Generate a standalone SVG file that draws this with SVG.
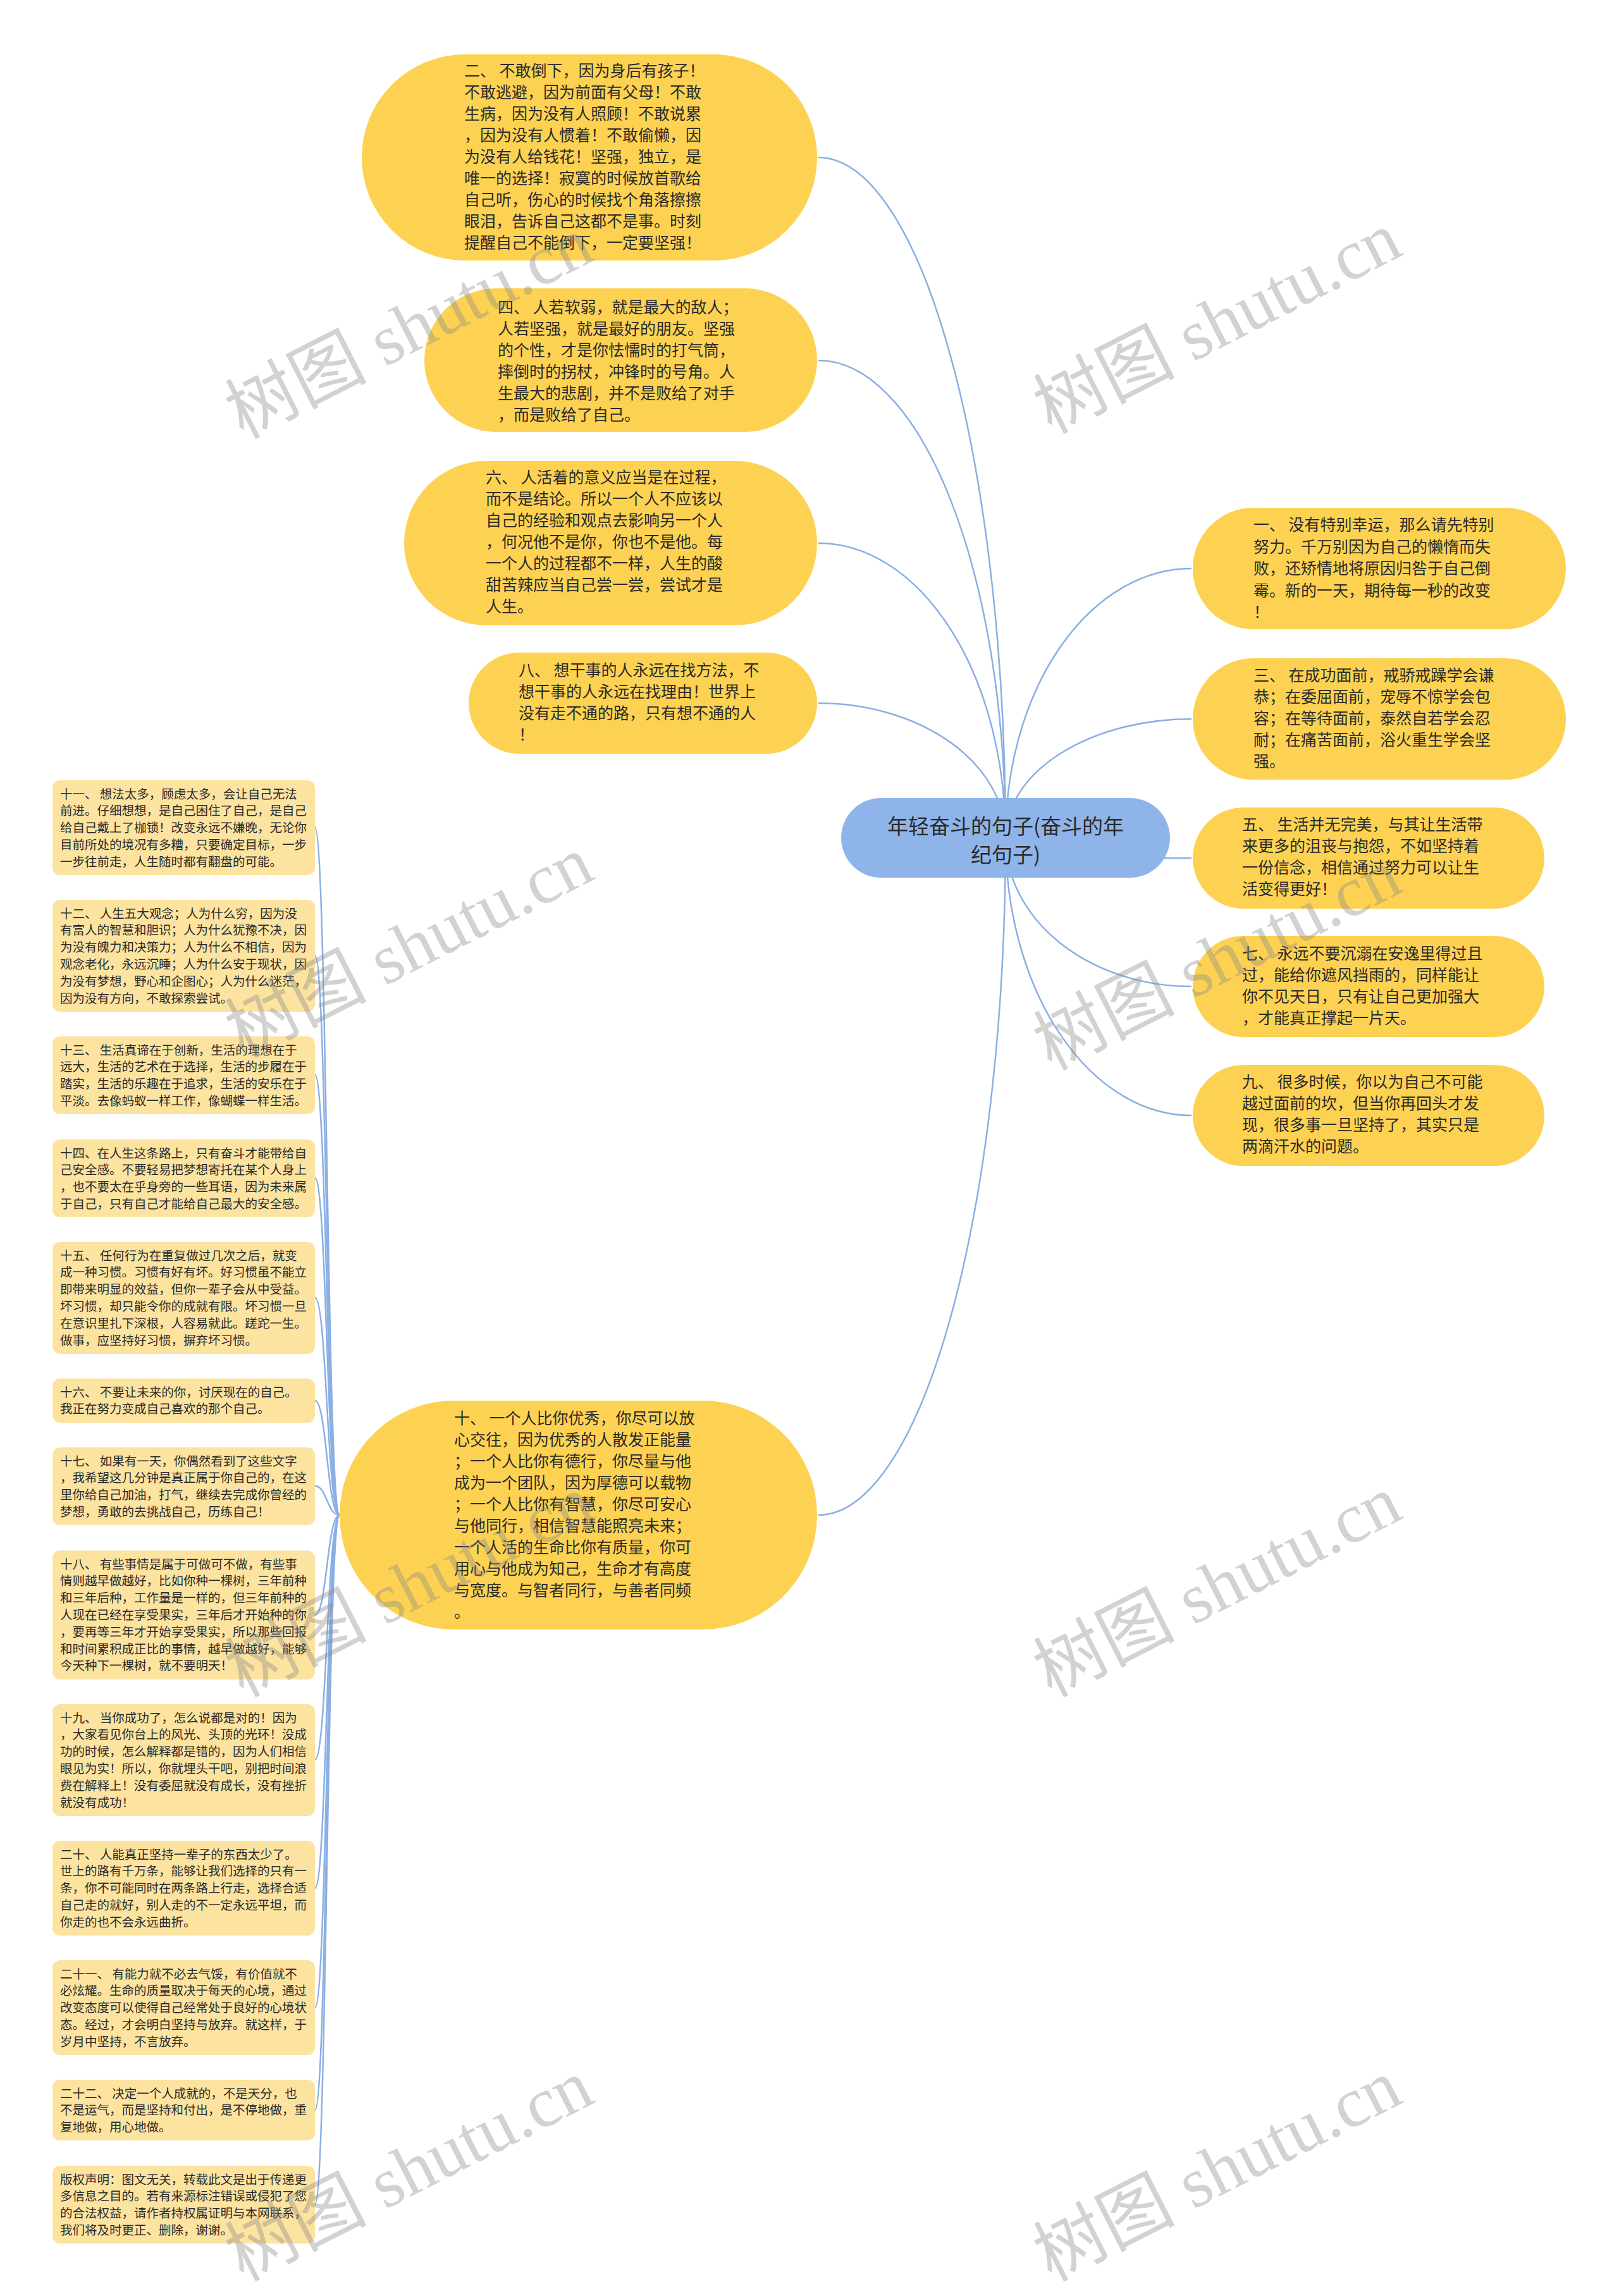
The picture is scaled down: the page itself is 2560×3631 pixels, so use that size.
<svg xmlns="http://www.w3.org/2000/svg" width="2560" height="3631" viewBox="0 0 2560 3631">
<style>
.bg{fill:#ffffff}
.big{fill:#FDD252}
.small{fill:#FCE3A0}
.root{fill:#8FB4E9}
.t{font-family:"Noto Sans CJK SC","Noto Sans",sans-serif;fill:#2a2a2a}
.t25{font-size:25px}
.t19{font-size:19.5px}
.t33{font-size:33px}
.conn{fill:none;stroke:#8AAFE3;stroke-width:2.5}
.wm{font-family:"Liberation Serif","Noto Sans CJK SC",serif;font-size:112px;fill:#8a8a8a;opacity:0.38}
</style>
<rect class="bg" x="0" y="0" width="2560" height="3631"/>
<g id="connectors">
<path class="conn" d="M1590 1325 A296 1076 0 0 0 1294 249"/>
<path class="conn" d="M1590 1325 A296 755 0 0 0 1294 570"/>
<path class="conn" d="M1590 1325 A296 466 0 0 0 1294 859"/>
<path class="conn" d="M1590 1325 A296 213 0 0 0 1294 1112"/>
<path class="conn" d="M1590 1325 A296 1071 0 0 1 1294 2396"/>
<path class="conn" d="M1590 1325 A294 426 0 0 1 1884 899"/>
<path class="conn" d="M1590 1325 A294 188 0 0 1 1884 1137"/>
<path class="conn" d="M1590 1325 A294 32 0 0 0 1884 1357"/>
<path class="conn" d="M1590 1325 A294 235 0 0 0 1884 1560"/>
<path class="conn" d="M1590 1325 A294 439 0 0 0 1884 1764"/>
<path class="conn" d="M537 2396 C517 2396 517 1309 498 1309"/>
<path class="conn" d="M537 2396 C517 2396 517 1511 498 1511"/>
<path class="conn" d="M537 2396 C517 2396 517 1700 498 1700"/>
<path class="conn" d="M537 2396 C517 2396 517 1863 498 1863"/>
<path class="conn" d="M537 2396 C517 2396 517 2052 498 2052"/>
<path class="conn" d="M537 2396 C517 2396 517 2215 498 2215"/>
<path class="conn" d="M537 2396 C517 2396 517 2350 498 2350"/>
<path class="conn" d="M537 2396 C517 2396 517 2554 498 2554"/>
<path class="conn" d="M537 2396 C517 2396 517 2783 498 2783"/>
<path class="conn" d="M537 2396 C517 2396 517 2986 498 2986"/>
<path class="conn" d="M537 2396 C517 2396 517 3175 498 3175"/>
<path class="conn" d="M537 2396 C517 2396 517 3337 498 3337"/>
<path class="conn" d="M537 2396 C517 2396 517 3486 498 3486"/>
</g>
<g id="root">
<rect class="root" x="1330" y="1262" width="520" height="126" rx="63"/>
<text class="t t33" text-anchor="middle"><tspan x="1590" y="1319">年轻奋斗的句子(奋斗的年</tspan><tspan x="1590" y="1364">纪句子)</tspan></text>
</g>
<g id="n2">
<rect class="big" x="572" y="86" width="720" height="326" rx="163"/>
<text class="t t25"><tspan x="734" y="121">二、 不敢倒下，因为身后有孩子！</tspan><tspan x="734" dy="34">不敢逃避，因为前面有父母！不敢</tspan><tspan x="734" dy="34">生病，因为没有人照顾！不敢说累</tspan><tspan x="734" dy="34">，因为没有人惯着！不敢偷懒，因</tspan><tspan x="734" dy="34">为没有人给钱花！坚强，独立，是</tspan><tspan x="734" dy="34">唯一的选择！寂寞的时候放首歌给</tspan><tspan x="734" dy="34">自己听，伤心的时候找个角落擦擦</tspan><tspan x="734" dy="34">眼泪，告诉自己这都不是事。时刻</tspan><tspan x="734" dy="34">提醒自己不能倒下，一定要坚强！</tspan></text>
</g>
<g id="n4">
<rect class="big" x="671" y="456" width="621" height="227" rx="113.5"/>
<text class="t t25"><tspan x="787" y="495">四、 人若软弱，就是最大的敌人；</tspan><tspan x="787" dy="34">人若坚强，就是最好的朋友。坚强</tspan><tspan x="787" dy="34">的个性，才是你怯懦时的打气筒，</tspan><tspan x="787" dy="34">摔倒时的拐杖，冲锋时的号角。人</tspan><tspan x="787" dy="34">生最大的悲剧，并不是败给了对手</tspan><tspan x="787" dy="34">，而是败给了自己。</tspan></text>
</g>
<g id="n6">
<rect class="big" x="639" y="729" width="653" height="260" rx="130"/>
<text class="t t25"><tspan x="768" y="764">六、 人活着的意义应当是在过程，</tspan><tspan x="768" dy="34">而不是结论。所以一个人不应该以</tspan><tspan x="768" dy="34">自己的经验和观点去影响另一个人</tspan><tspan x="768" dy="34">，何况他不是你，你也不是他。每</tspan><tspan x="768" dy="34">一个人的过程都不一样，人生的酸</tspan><tspan x="768" dy="34">甜苦辣应当自己尝一尝，尝试才是</tspan><tspan x="768" dy="34">人生。</tspan></text>
</g>
<g id="n8">
<rect class="big" x="741" y="1032" width="551" height="160" rx="80"/>
<text class="t t25"><tspan x="820" y="1069">八、 想干事的人永远在找方法，不</tspan><tspan x="820" dy="34">想干事的人永远在找理由！世界上</tspan><tspan x="820" dy="34">没有走不通的路，只有想不通的人</tspan><tspan x="820" dy="34">！</tspan></text>
</g>
<g id="n10">
<rect class="big" x="537" y="2215" width="755" height="362" rx="181"/>
<text class="t t25"><tspan x="718" y="2252">十、 一个人比你优秀，你尽可以放</tspan><tspan x="718" dy="34">心交往，因为优秀的人散发正能量</tspan><tspan x="718" dy="34">；一个人比你有德行，你尽量与他</tspan><tspan x="718" dy="34">成为一个团队，因为厚德可以载物</tspan><tspan x="718" dy="34">；一个人比你有智慧，你尽可安心</tspan><tspan x="718" dy="34">与他同行，相信智慧能照亮未来；</tspan><tspan x="718" dy="34">一个人活的生命比你有质量，你可</tspan><tspan x="718" dy="34">用心与他成为知己，生命才有高度</tspan><tspan x="718" dy="34">与宽度。与智者同行，与善者同频</tspan><tspan x="718" dy="34">。</tspan></text>
</g>
<g id="n1">
<rect class="big" x="1886" y="803" width="590" height="192" rx="96"/>
<text class="t t25"><tspan x="1982" y="839">一、 没有特别幸运，那么请先特别</tspan><tspan x="1982" dy="34.5">努力。千万别因为自己的懒惰而失</tspan><tspan x="1982" dy="34.5">败，还矫情地将原因归咎于自己倒</tspan><tspan x="1982" dy="34.5">霉。新的一天，期待每一秒的改变</tspan><tspan x="1982" dy="34.5">！</tspan></text>
</g>
<g id="n3">
<rect class="big" x="1886" y="1041" width="590" height="192" rx="96"/>
<text class="t t25"><tspan x="1982" y="1077">三、 在成功面前，戒骄戒躁学会谦</tspan><tspan x="1982" dy="34">恭；在委屈面前，宠辱不惊学会包</tspan><tspan x="1982" dy="34">容；在等待面前，泰然自若学会忍</tspan><tspan x="1982" dy="34">耐；在痛苦面前，浴火重生学会坚</tspan><tspan x="1982" dy="34">强。</tspan></text>
</g>
<g id="n5">
<rect class="big" x="1886" y="1277" width="556" height="160" rx="80"/>
<text class="t t25"><tspan x="1964" y="1313">五、 生活并无完美，与其让生活带</tspan><tspan x="1964" dy="34">来更多的沮丧与抱怨，不如坚持着</tspan><tspan x="1964" dy="34">一份信念，相信通过努力可以让生</tspan><tspan x="1964" dy="34">活变得更好！</tspan></text>
</g>
<g id="n7">
<rect class="big" x="1886" y="1480" width="556" height="160" rx="80"/>
<text class="t t25"><tspan x="1964" y="1517">七、 永远不要沉溺在安逸里得过且</tspan><tspan x="1964" dy="34">过，能给你遮风挡雨的，同样能让</tspan><tspan x="1964" dy="34">你不见天日，只有让自己更加强大</tspan><tspan x="1964" dy="34">，才能真正撑起一片天。</tspan></text>
</g>
<g id="n9">
<rect class="big" x="1886" y="1684" width="556" height="160" rx="80"/>
<text class="t t25"><tspan x="1964" y="1720">九、 很多时候，你以为自己不可能</tspan><tspan x="1964" dy="34">越过面前的坎，但当你再回头才发</tspan><tspan x="1964" dy="34">现，很多事一旦坚持了，其实只是</tspan><tspan x="1964" dy="34">两滴汗水的问题。</tspan></text>
</g>
<g id="n11">
<rect class="small" x="83" y="1234" width="415" height="150" rx="12"/>
<text class="t t19"><tspan x="95" y="1262.6">十一、 想法太多，顾虑太多，会让自己无法</tspan><tspan x="95" dy="26.8">前进。仔细想想，是自己困住了自己，是自己</tspan><tspan x="95" dy="26.8">给自己戴上了枷锁！改变永远不嫌晚，无论你</tspan><tspan x="95" dy="26.8">目前所处的境况有多糟，只要确定目标，一步</tspan><tspan x="95" dy="26.8">一步往前走，人生随时都有翻盘的可能。</tspan></text>
</g>
<g id="n12">
<rect class="small" x="83" y="1423" width="415" height="177" rx="12"/>
<text class="t t19"><tspan x="95" y="1451.6">十二、 人生五大观念；人为什么穷，因为没</tspan><tspan x="95" dy="26.8">有富人的智慧和胆识；人为什么犹豫不决，因</tspan><tspan x="95" dy="26.8">为没有魄力和决策力；人为什么不相信，因为</tspan><tspan x="95" dy="26.8">观念老化，永远沉睡；人为什么安于现状，因</tspan><tspan x="95" dy="26.8">为没有梦想，野心和企图心；人为什么迷茫，</tspan><tspan x="95" dy="26.8">因为没有方向，不敢探索尝试。</tspan></text>
</g>
<g id="n13">
<rect class="small" x="83" y="1639" width="415" height="123" rx="12"/>
<text class="t t19"><tspan x="95" y="1667.6">十三、 生活真谛在于创新，生活的理想在于</tspan><tspan x="95" dy="26.8">远大，生活的艺术在于选择，生活的步履在于</tspan><tspan x="95" dy="26.8">踏实，生活的乐趣在于追求，生活的安乐在于</tspan><tspan x="95" dy="26.8">平淡。去像蚂蚁一样工作，像蝴蝶一样生活。</tspan></text>
</g>
<g id="n14">
<rect class="small" x="83" y="1802" width="415" height="123" rx="12"/>
<text class="t t19"><tspan x="95" y="1830.6">十四、在人生这条路上，只有奋斗才能带给自</tspan><tspan x="95" dy="26.8">己安全感。不要轻易把梦想寄托在某个人身上</tspan><tspan x="95" dy="26.8">，也不要太在乎身旁的一些耳语，因为未来属</tspan><tspan x="95" dy="26.8">于自己，只有自己才能给自己最大的安全感。</tspan></text>
</g>
<g id="n15">
<rect class="small" x="83" y="1964" width="415" height="177" rx="12"/>
<text class="t t19"><tspan x="95" y="1992.6">十五、 任何行为在重复做过几次之后，就变</tspan><tspan x="95" dy="26.8">成一种习惯。习惯有好有坏。好习惯虽不能立</tspan><tspan x="95" dy="26.8">即带来明显的效益，但你一辈子会从中受益。</tspan><tspan x="95" dy="26.8">坏习惯，却只能令你的成就有限。坏习惯一旦</tspan><tspan x="95" dy="26.8">在意识里扎下深根，人容易就此。蹉跎一生。</tspan><tspan x="95" dy="26.8">做事，应坚持好习惯，摒弃坏习惯。</tspan></text>
</g>
<g id="n16">
<rect class="small" x="83" y="2180" width="415" height="70" rx="12"/>
<text class="t t19"><tspan x="95" y="2208.6">十六、 不要让未来的你，讨厌现在的自己。</tspan><tspan x="95" dy="26.8">我正在努力变成自己喜欢的那个自己。</tspan></text>
</g>
<g id="n17">
<rect class="small" x="83" y="2289" width="415" height="123" rx="12"/>
<text class="t t19"><tspan x="95" y="2317.6">十七、 如果有一天，你偶然看到了这些文字</tspan><tspan x="95" dy="26.8">，我希望这几分钟是真正属于你自己的，在这</tspan><tspan x="95" dy="26.8">里你给自己加油，打气，继续去完成你曾经的</tspan><tspan x="95" dy="26.8">梦想，勇敢的去挑战自己，历练自己！</tspan></text>
</g>
<g id="n18">
<rect class="small" x="83" y="2452" width="415" height="204" rx="12"/>
<text class="t t19"><tspan x="95" y="2480.6">十八、 有些事情是属于可做可不做，有些事</tspan><tspan x="95" dy="26.8">情则越早做越好，比如你种一棵树，三年前种</tspan><tspan x="95" dy="26.8">和三年后种，工作量是一样的，但三年前种的</tspan><tspan x="95" dy="26.8">人现在已经在享受果实，三年后才开始种的你</tspan><tspan x="95" dy="26.8">，要再等三年才开始享受果实，所以那些回报</tspan><tspan x="95" dy="26.8">和时间累积成正比的事情，越早做越好，能够</tspan><tspan x="95" dy="26.8">今天种下一棵树，就不要明天！</tspan></text>
</g>
<g id="n19">
<rect class="small" x="83" y="2695" width="415" height="177" rx="12"/>
<text class="t t19"><tspan x="95" y="2723.6">十九、 当你成功了，怎么说都是对的！因为</tspan><tspan x="95" dy="26.8">，大家看见你台上的风光、头顶的光环！没成</tspan><tspan x="95" dy="26.8">功的时候，怎么解释都是错的，因为人们相信</tspan><tspan x="95" dy="26.8">眼见为实！所以，你就埋头干吧，别把时间浪</tspan><tspan x="95" dy="26.8">费在解释上！没有委屈就没有成长，没有挫折</tspan><tspan x="95" dy="26.8">就没有成功！</tspan></text>
</g>
<g id="n20">
<rect class="small" x="83" y="2911" width="415" height="150" rx="12"/>
<text class="t t19"><tspan x="95" y="2939.6">二十、 人能真正坚持一辈子的东西太少了。</tspan><tspan x="95" dy="26.8">世上的路有千万条，能够让我们选择的只有一</tspan><tspan x="95" dy="26.8">条，你不可能同时在两条路上行走，选择合适</tspan><tspan x="95" dy="26.8">自己走的就好，别人走的不一定永远平坦，而</tspan><tspan x="95" dy="26.8">你走的也不会永远曲折。</tspan></text>
</g>
<g id="n21">
<rect class="small" x="83" y="3100" width="415" height="150" rx="12"/>
<text class="t t19"><tspan x="95" y="3128.6">二十一、 有能力就不必去气馁，有价值就不</tspan><tspan x="95" dy="26.8">必炫耀。生命的质量取决于每天的心境，通过</tspan><tspan x="95" dy="26.8">改变态度可以使得自己经常处于良好的心境状</tspan><tspan x="95" dy="26.8">态。经过，才会明白坚持与放弃。就这样，于</tspan><tspan x="95" dy="26.8">岁月中坚持，不言放弃。</tspan></text>
</g>
<g id="n22">
<rect class="small" x="83" y="3289" width="415" height="96" rx="12"/>
<text class="t t19"><tspan x="95" y="3317.6">二十二、 决定一个人成就的，不是天分，也</tspan><tspan x="95" dy="26.8">不是运气，而是坚持和付出，是不停地做，重</tspan><tspan x="95" dy="26.8">复地做，用心地做。</tspan></text>
</g>
<g id="n23">
<rect class="small" x="83" y="3425" width="415" height="123" rx="12"/>
<text class="t t19"><tspan x="95" y="3453.6">版权声明：图文无关，转载此文是出于传递更</tspan><tspan x="95" dy="26.8">多信息之目的。若有来源标注错误或侵犯了您</tspan><tspan x="95" dy="26.8">的合法权益，请作者持权属证明与本网联系，</tspan><tspan x="95" dy="26.8">我们将及时更正、删除，谢谢。</tspan></text>
</g>
<g id="watermarks">
<text class="wm" text-anchor="middle" x="648" y="556" transform="rotate(-27 648 521)">树图 shutu.cn</text>
<text class="wm" text-anchor="middle" x="1926" y="548" transform="rotate(-27 1926 513)">树图 shutu.cn</text>
<text class="wm" text-anchor="middle" x="648" y="1535" transform="rotate(-27 648 1500)">树图 shutu.cn</text>
<text class="wm" text-anchor="middle" x="1926" y="1555" transform="rotate(-27 1926 1520)">树图 shutu.cn</text>
<text class="wm" text-anchor="middle" x="648" y="2546" transform="rotate(-27 648 2511)">树图 shutu.cn</text>
<text class="wm" text-anchor="middle" x="1926" y="2546" transform="rotate(-27 1926 2511)">树图 shutu.cn</text>
<text class="wm" text-anchor="middle" x="648" y="3470" transform="rotate(-27 648 3435)">树图 shutu.cn</text>
<text class="wm" text-anchor="middle" x="1926" y="3470" transform="rotate(-27 1926 3435)">树图 shutu.cn</text>
</g>
</svg>
